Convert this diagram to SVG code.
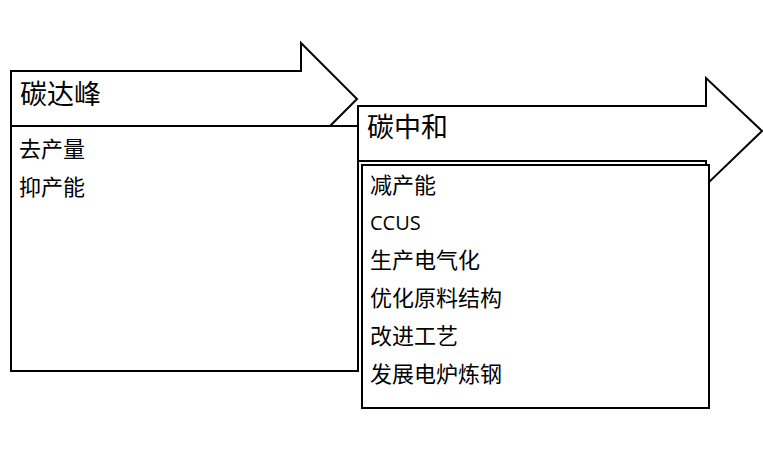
<svg xmlns="http://www.w3.org/2000/svg" width="763" height="450" viewBox="0 0 763 450">
<style>
.s{fill:#fff;stroke:#000;stroke-width:2}
.h{font-family:"Noto Sans CJK SC","Liberation Sans",sans-serif;font-size:27px;fill:#000}
.t{font-family:"Noto Sans CJK SC","Open Sans",sans-serif;font-size:22px;fill:#000}
.c{font-family:"Open Sans","Noto Sans CJK SC",sans-serif;font-size:20px;fill:#000}
</style>
<rect width="763" height="450" fill="#fff"/>
<g id="arrow1"><polygon class="s" points="11,71 301,71 301,43 357,99 301,155 301,126 11,126"/><text class="h" x="20" y="104">碳达峰</text></g>
<g id="box1"><rect class="s" x="11" y="126" width="347" height="245"/><text class="t" x="19" y="157">去产量</text><text class="t" x="19" y="195">抑产能</text></g>
<g id="arrow2"><polygon class="s" points="358,106 706,106 706,78 762,131 706,185 706,161 358,161"/><text class="h" x="367" y="137">碳中和</text></g>
<g id="box2"><rect class="s" x="362" y="165" width="347" height="243"/>
<text class="t" x="370" y="193">减产能</text>
<text class="c" x="370" y="230">CCUS</text>
<text class="t" x="370" y="268">生产电气化</text>
<text class="t" x="370" y="306">优化原料结构</text>
<text class="t" x="370" y="344">改进工艺</text>
<text class="t" x="370" y="382">发展电炉炼钢</text></g>
<g id="connectors"/>
</svg>
